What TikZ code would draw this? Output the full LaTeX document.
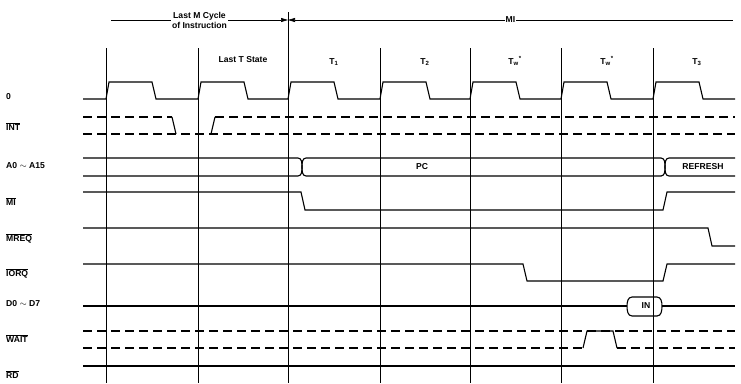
\documentclass[tikz,border=0pt]{standalone}
\usepackage{fontspec}
\setmainfont{Liberation Sans}
\usetikzlibrary{arrows.meta}
\newcommand{\ovl}[1]{$\overline{\mbox{#1}}$}

\begin{document}
\begin{tikzpicture}[x=1pt,y=-1pt,>={Triangle[length=7pt,width=4pt]},
  wave/.style={line width=1.1pt},
  dashwave/.style={line width=1.1pt,dash pattern=on 9pt off 5pt},
  grid/.style={line width=0.7pt},
  txt/.style={font=\bfseries\fontsize{8.6}{10}\selectfont,inner sep=1pt},
  sig/.style={txt,anchor=west}]
\useasboundingbox (0,0) rectangle (741,383);

% cycle markers
\draw[grid] (288,12) -- (288,383);
\foreach \x in {106,198,380,470,561,653}
  \draw[grid] (\x,48) -- (\x,383);
\draw[grid,->] (111,20) -- node[txt,fill=white,align=center] (m_last) {Last M Cycle\\of Instruction} (288,20);
\draw[grid,<-] (288,20) -- node[txt,fill=white] (m_one) {MI} (733,20);

\node[txt] (t_last) at (243,60) {Last T State};
\node[txt] (t_1) at (334,62) {T\textsubscript{1}};
\node[txt] (t_2) at (425,62) {T\textsubscript{2}};
\node[txt] (t_w1) at (515,61) {T\textsubscript{w}\textsuperscript{*}};
\node[txt] (t_w2) at (607,61) {T\textsubscript{w}\textsuperscript{*}};
\node[txt] (t_3) at (697,62) {T\textsubscript{3}};

% signal names
\node[sig] (s_clk) at (5,97) {0};
\node[sig] (s_int) at (5,127) {\ovl{INT}};
\node[sig] (s_addr) at (5,166) {A0 $\sim$ A15};
\node[sig] (s_mi) at (5,202) {\ovl{MI}};
\node[sig] (s_mreq) at (5,238) {\ovl{MREQ}};
\node[sig] (s_iorq) at (5,273) {\ovl{IORQ}};
\node[sig] (s_data) at (5,304) {D0 $\sim$ D7};
\node[sig] (s_wait) at (5,339) {\ovl{WAIT}};
\node[sig] (s_rd) at (5,375) {\ovl{RD}};

% clock
\draw[wave] (83,99) \foreach \x in {106,198,288,380,470,561,653}
  { -- (\x,99) -- (\x+3,82) -- (\x+46,82) -- (\x+50,99) } -- (735,99);

% INT
\draw[dashwave] (83,117) -- (172,117);
\draw[wave] (172,117) -- (176,134);
\draw[wave] (211,134) -- (215,117);
\draw[dashwave] (215,117) -- (735,117);
\draw[dashwave] (83,134) -- (735,134);

% address bus
\draw[wave] (83,158) -- (298,158) to[out=0,in=90] (302,167) to[out=-90,in=0] (298,176) -- (83,176);
\draw[wave] (661,158) -- (306,158) to[out=180,in=90] (302,167) to[out=-90,in=180] (306,176) -- (661,176);
\draw[wave] (661,158) to[out=0,in=90] (665,167) to[out=-90,in=0] (661,176);
\draw[wave] (735,158) -- (669,158) to[out=180,in=90] (665,167) to[out=-90,in=180] (669,176) -- (735,176);
\node[txt] (pc) at (422,167) {PC};
\node[txt] (refresh) at (703,167) {REFRESH};

% MI, MREQ, IORQ
\draw[wave] (83,192) -- (301,192) -- (305,210) -- (663,210) -- (667,192) -- (735,192);
\draw[wave] (83,228) -- (708,228) -- (712,246) -- (735,246);
\draw[wave] (83,264) -- (523,264) -- (527,281) -- (663,281) -- (667,264) -- (735,264);

% data bus
\draw[wave] (83,306) -- (627,306);
\draw[wave] (632,297) -- (657,297) to[out=0,in=90] (662,306) to[out=-90,in=0] (657,316)
  -- (632,316) to[out=180,in=-90] (627,306) to[out=90,in=180] cycle;
\node[txt] (in) at (646,306) {IN};
\draw[wave] (662,306) -- (735,306);

% WAIT
\draw[dashwave] (83,331) -- (735,331);
\draw[dashwave] (83,348) -- (583,348);
\draw[wave] (583,348) -- (587,331) -- (613,331) -- (617,348);
\draw[dashwave] (617,348) -- (735,348);

% RD
\draw[wave] (83,366) -- (735,366);
\end{tikzpicture}
\end{document}
